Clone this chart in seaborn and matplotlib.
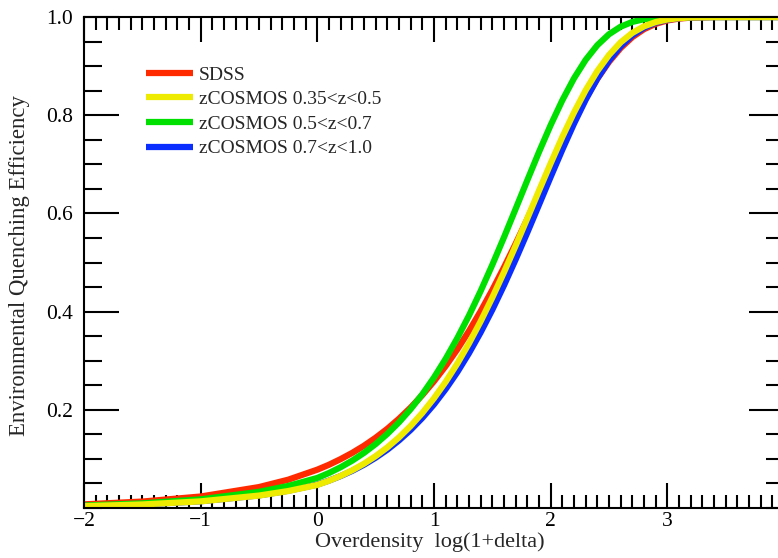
import numpy as np
import pandas as pd
import matplotlib
matplotlib.use("Agg")
import matplotlib.pyplot as plt
import seaborn as sns
from matplotlib.ticker import MultipleLocator

# overdensity grid, log(1+delta)
x = [-2.0, -1.5, -1.0, -0.5, -0.25,
     0.0, 0.1, 0.2, 0.3, 0.4, 0.5, 0.6, 0.7, 0.8, 0.9,
     1.0, 1.1, 1.2, 1.3, 1.4, 1.5, 1.6, 1.7, 1.8, 1.9,
     2.0, 2.1, 2.2, 2.3, 2.4, 2.5, 2.6, 2.7, 2.8, 2.9,
     3.0, 3.1, 3.2, 3.4, 3.6, 3.8, 4.0]

# quenching efficiency
sdss = [0.0074, 0.0131, 0.0234, 0.0426, 0.0576,
        0.0781, 0.0881, 0.0996, 0.1124, 0.1268, 0.1431, 0.1613, 0.1818, 0.2046, 0.2300,
        0.2581, 0.2891, 0.3232, 0.3605, 0.4008, 0.4441, 0.4902, 0.5384, 0.5887, 0.6399,
        0.6912, 0.7414, 0.7895, 0.8341, 0.8741, 0.9086, 0.9369, 0.9590, 0.9752, 0.9861,
        0.9930, 0.9968, 0.9987, 0.9999, 1.0, 1.0, 1.0]
z035 = [0.0038, 0.0072, 0.0135, 0.0253, 0.0345,
        0.0470, 0.0555, 0.0654, 0.0769, 0.0902, 0.1057, 0.1234, 0.1438, 0.1671, 0.1936,
        0.2235, 0.2569, 0.2942, 0.3353, 0.3802, 0.4287, 0.4802, 0.5343, 0.5900, 0.6464,
        0.7020, 0.7556, 0.8055, 0.8508, 0.8900, 0.9226, 0.9484, 0.9676, 0.9810, 0.9897,
        0.9949, 0.9977, 0.9991, 0.9999, 1.0, 1.0, 1.0]
z05 = [0.0050, 0.0094, 0.0176, 0.0329, 0.0449,
       0.0612, 0.0713, 0.0831, 0.0966, 0.1123, 0.1303, 0.1510, 0.1746, 0.2014, 0.2317,
       0.2658, 0.3039, 0.3460, 0.3920, 0.4420, 0.4954, 0.5514, 0.6093, 0.6676, 0.7251,
       0.7799, 0.8304, 0.8751, 0.9127, 0.9426, 0.9649, 0.9803, 0.9900, 0.9955, 0.9982,
       0.9994, 0.9998, 1.0, 1.0, 1.0, 1.0, 1.0]
z07 = [0.0039, 0.0073, 0.0137, 0.0257, 0.0351,
       0.0478, 0.0558, 0.0651, 0.0758, 0.0882, 0.1025, 0.1188, 0.1377, 0.1591, 0.1835,
       0.2111, 0.2422, 0.2768, 0.3154, 0.3578, 0.4039, 0.4536, 0.5063, 0.5612, 0.6177,
       0.6744, 0.7299, 0.7828, 0.8315, 0.8746, 0.9110, 0.9404, 0.9626, 0.9782, 0.9884,
       0.9944, 0.9976, 0.9991, 0.9999, 1.0, 1.0, 1.0]

labels = ["SDSS", "zCOSMOS 0.35<z<0.5", "zCOSMOS 0.5<z<0.7", "zCOSMOS 0.7<z<1.0"]
colors = ["#ff2a00", "#eeea00", "#00e000", "#0a2eff"]
series = [sdss, z035, z05, z07]

sns.set_style("ticks")
plt.rcParams['font.family'] = ['Liberation Serif', 'DejaVu Serif']

fig = plt.figure(figsize=(7.78, 5.58), dpi=100)
ax = fig.add_axes([84/778, 1-508/558, 700/778, 491/558])

for i in [0, 3, 2, 1]:  # drawing order
    df = pd.DataFrame({"x": x, "y": series[i]})
    sns.lineplot(data=df, x="x", y="y", color=colors[i], lw=4.5, ax=ax,
                 sort=False, label=labels[i], solid_capstyle="butt")
h, l = ax.get_legend_handles_labels()
lookup = dict(zip(l, h))
ax.legend([lookup[s] for s in labels], labels, loc="upper left",
          bbox_to_anchor=(0.074, 0.92), frameon=False, fontsize=14,
          handlelength=2.45, handletextpad=0.3, labelspacing=0.36, borderpad=0)

ax.set_xlim(-2, 4)
ax.set_ylim(0, 1)
ax.set_xticks([-2, -1, 0, 1, 2, 3])
ax.set_xticklabels(["\u22122", "\u22121", "0", "1", "2", "3"])
ax.xaxis.set_minor_locator(MultipleLocator(0.1))
ax.set_yticks([0.2, 0.4, 0.6, 0.8, 1.0])
ax.set_yticklabels(["0.2", "0.4", "0.6", "0.8", "1.0"])
ax.yaxis.set_minor_locator(MultipleLocator(0.05))

ax.tick_params(axis="both", which="both", direction="in", top=True, right=True,
               width=1.5, colors="black", labelsize=15.5)
ax.tick_params(axis="x", which="major", length=18, pad=3)
ax.tick_params(axis="x", which="minor", length=9.5)
ax.tick_params(axis="y", which="major", length=25, pad=8)
ax.tick_params(axis="y", which="minor", length=13)
for sp in ax.spines.values():
    sp.set_linewidth(1.5)
    sp.set_color("black")

ax.set_xlabel("Overdensity  log(1+delta)", fontsize=16)
ax.xaxis.set_label_coords(0.494, -0.05)
ax.set_ylabel("Environmental Quenching Efficiency", fontsize=16.4)
ax.yaxis.set_label_coords(-0.077, 0.493)

fig.savefig("out.png", dpi=100)
